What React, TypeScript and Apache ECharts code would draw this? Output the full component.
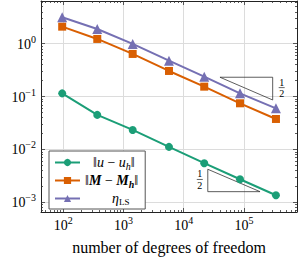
import React, { useEffect, useRef } from 'react';
import * as echarts from 'echarts';

// ---- data ----
const dofs = [96, 367, 1420, 5690, 21900, 86000, 340000];
const errU = [0.115, 0.045, 0.0234, 0.0112, 0.0055, 0.00273, 0.00136];
const errM = [2.1, 1.23, 0.64, 0.305, 0.154, 0.0746, 0.0377];
const etaLS = [3.16, 1.9, 0.99, 0.478, 0.238, 0.115, 0.06];

const seriesNames = ['‖u − uₕ‖', '‖M − Mₕ‖', 'ηLS'];

const xMajor = [100, 1000, 10000, 100000];
const yMajor = [0.001, 0.01, 0.1, 1];
const xDecades = [10, 100, 1000, 10000, 100000];
const yDecades = [0.0001, 0.001, 0.01, 0.1, 1];

// slope triangles: [x0, y0, x1, y1, side]
const slopeTriangles = [
  [40000, 0.232, 300000, 0.0862, 1],
  [25100, 0.00422, 185000, 0.00159, -1],
];

const X_MIN = 42.7;
const X_MAX = 760000;
const Y_MIN = 0.000656;
const Y_MAX = 6.42;

function minorTicks(decades: number[], lo: number, hi: number) {
  const out: number[] = [];
  decades.forEach((d) => {
    for (let m = 2; m <= 9; m++) {
      const v = Number((m * d).toPrecision(6));
      if (v >= lo && v <= hi) out.push(v);
    }
  });
  return out;
}
const xMinor = minorTicks(xDecades, X_MIN, X_MAX);
const yMinor = minorTicks(yDecades, Y_MIN, Y_MAX);

const SERIF = "'Liberation Serif', 'Times New Roman', serif";
const COLORS = ['#1b9e77', '#d95f02', '#7570b3'];

const powRich = {
  base: { fontSize: 14, lineHeight: 15, verticalAlign: 'bottom', fontFamily: SERIF, color: '#000' },
  sup: { fontSize: 10, lineHeight: 10, padding: [0, 0, 7, 0], verticalAlign: 'bottom', fontFamily: SERIF, color: '#000' },
};
const powFormatter = (v: number) => {
  const e = Math.round(Math.log10(v));
  return `{base|10}{sup|${e < 0 ? '−' + -e : e}}`;
};

const tickLine = { color: '#333', width: 0.8 };
const frameLine = { show: true, onZero: false, lineStyle: { color: '#222', width: 1 } };

function xAxisCfg(position: string, values: number[], len: number, main: boolean) {
  return {
    type: 'log',
    gridIndex: 0,
    position,
    min: X_MIN,
    max: X_MAX,
    axisLine: main ? frameLine : { show: false },
    axisTick: { show: true, inside: true, length: len, customValues: values, lineStyle: tickLine },
    axisLabel: { show: false },
    splitLine: { show: false },
    minorTick: { show: false },
    minorSplitLine: { show: false },
    axisPointer: { show: false },
  };
}
function yAxisCfg(position: string, values: number[], len: number, main: boolean) {
  return {
    type: 'log',
    gridIndex: 0,
    position,
    min: Y_MIN,
    max: Y_MAX,
    axisLine: main ? frameLine : { show: false },
    axisTick: { show: true, inside: true, length: len, customValues: values, lineStyle: tickLine },
    axisLabel: { show: false },
    splitLine: { show: false },
    minorTick: { show: false },
    minorSplitLine: { show: false },
    axisPointer: { show: false },
  };
}

const legendRich = {
  n: { fontSize: 14, lineHeight: 15, verticalAlign: 'top', fontFamily: SERIF, color: '#000' },
  i: { fontSize: 14, lineHeight: 15, verticalAlign: 'top', fontFamily: SERIF, fontStyle: 'italic', color: '#000' },
  bi: { fontSize: 14, lineHeight: 15, verticalAlign: 'top', fontFamily: SERIF, fontStyle: 'italic', fontWeight: 'bold', color: '#000' },
  sub: { fontSize: 10, lineHeight: 10, padding: [6, 0, 0, 0], verticalAlign: 'top', fontFamily: SERIF, fontStyle: 'italic', color: '#000' },
  bsub: { fontSize: 10, lineHeight: 10, padding: [6, 0, 0, 0], verticalAlign: 'top', fontFamily: SERIF, fontStyle: 'italic', fontWeight: 'bold', color: '#000' },
  rsub: { fontSize: 9, lineHeight: 10, padding: [6, 0, 0, 0], verticalAlign: 'top', fontFamily: SERIF, color: '#000' },
  sp1: { width: 8, lineHeight: 15 },
  sp3: { width: 27, lineHeight: 15 },
};
const legendText: Record<string, string> = {
  [seriesNames[0]]: '{sp1|}{n|‖}{i|u}{n| − }{i|u}{sub|h}{n|‖}',
  [seriesNames[1]]: '{n|‖}{bi|M}{n| − }{bi|M}{bsub|h}{n|‖}',
  [seriesNames[2]]: '{sp3|}{i|η}{rsub|LS}',
};

export default function App() {
  const ref = useRef<HTMLDivElement>(null);
  useEffect(() => {
    document.body.style.margin = '0';
    if (!ref.current) return;
    const chart = echarts.init(ref.current, undefined, { renderer: 'svg' });
    const mk = (i: number, symbol: string, size: number, vals: number[]) => ({
      type: 'line',
      name: seriesNames[i],
      xAxisIndex: 0,
      yAxisIndex: 0,
      data: dofs.map((d, k) => [d, vals[k]]),
      symbol,
      symbolSize: size,
      showSymbol: true,
      lineStyle: { color: COLORS[i], width: 2 },
      itemStyle: { color: COLORS[i] },
      z: 3 + i,
    });
    chart.setOption({
      animation: false,
      grid: { left: 41, right: 1, top: 1, bottom: 48, containLabel: false, outerBoundsMode: 'none' },
      xAxis: [
        {
          ...xAxisCfg('bottom', xMajor, 4, true),
          axisLabel: { show: true, customValues: xMajor, formatter: powFormatter, rich: powRich, margin: 5 },
          splitLine: { show: true, lineStyle: { color: '#dcdcdc', width: 1 } },
          name: 'number of degrees of freedom',
          nameLocation: 'middle',
          nameGap: 27,
          nameTextStyle: { fontFamily: SERIF, fontSize: 16, color: '#000' },
        },
        xAxisCfg('bottom', xMinor, 2, false),
        xAxisCfg('top', xMajor, 4, true),
        xAxisCfg('top', xMinor, 2, false),
      ],
      yAxis: [
        {
          ...yAxisCfg('left', yMajor, 4, true),
          axisLabel: { show: true, customValues: yMajor, formatter: powFormatter, rich: powRich, margin: 5 },
          splitLine: { show: true, lineStyle: { color: '#dcdcdc', width: 1 } },
        },
        yAxisCfg('left', yMinor, 2, false),
        yAxisCfg('right', yMajor, 4, true),
        yAxisCfg('right', yMinor, 2, false),
      ],
      legend: {
        data: seriesNames,
        orient: 'vertical',
        left: 49,
        top: 151,
        padding: [4, 7, 3, 5],
        itemGap: 2,
        itemWidth: 25,
        itemHeight: 9,
        itemTextGap: 5,
        borderColor: '#555',
        borderWidth: 1,
        borderRadius: 0,
        backgroundColor: '#fff',
        formatter: (name: string) => legendText[name] || name,
        textStyle: { fontFamily: SERIF, fontSize: 14, rich: legendRich },
        z: 10,
      },
      series: [
        mk(0, 'circle', 8, errU),
        mk(1, 'rect', 8, errM),
        mk(2, 'triangle', 10, etaLS),
        {
          type: 'custom',
          name: 'slopes',
          xAxisIndex: 0,
          yAxisIndex: 0,
          clip: false,
          z: 2,
          data: slopeTriangles,
          renderItem: (params: any, api: any) => {
            const x0 = api.value(0), y0 = api.value(1), x1 = api.value(2), y1 = api.value(3), side = api.value(4);
            const pA = api.coord([x0, y0]);
            const pB = api.coord([x1, y1]);
            let pts: number[][];
            let lx: number;
            if (side > 0) {
              pts = [[pA[0], pA[1]], [pB[0], pA[1]], [pB[0], pB[1]]];
              lx = pB[0] + 9;
            } else {
              pts = [[pA[0], pA[1]], [pA[0], pB[1]], [pB[0], pB[1]]];
              lx = pA[0] - 8;
            }
            const my = (pA[1] + pB[1]) / 2 - 1;
            return {
              type: 'group',
              children: [
                { type: 'polygon', shape: { points: pts }, style: { fill: 'none', stroke: '#333', lineWidth: 0.8 } },
                { type: 'text', x: lx, y: my - 0.5, style: { text: '1', fontFamily: SERIF, fontSize: 10, align: 'center', verticalAlign: 'bottom', fill: '#000' } },
                { type: 'line', shape: { x1: lx - 3, y1: my, x2: lx + 3, y2: my }, style: { stroke: '#000', lineWidth: 0.6 } },
                { type: 'text', x: lx, y: my + 1, style: { text: '2', fontFamily: SERIF, fontSize: 10, align: 'center', verticalAlign: 'top', fill: '#000' } },
              ],
            };
          },
        },
      ],
    });
    return () => chart.dispose();
  }, []);
  return <div ref={ref} style={{ width: 298, height: 260 }} />;
}
